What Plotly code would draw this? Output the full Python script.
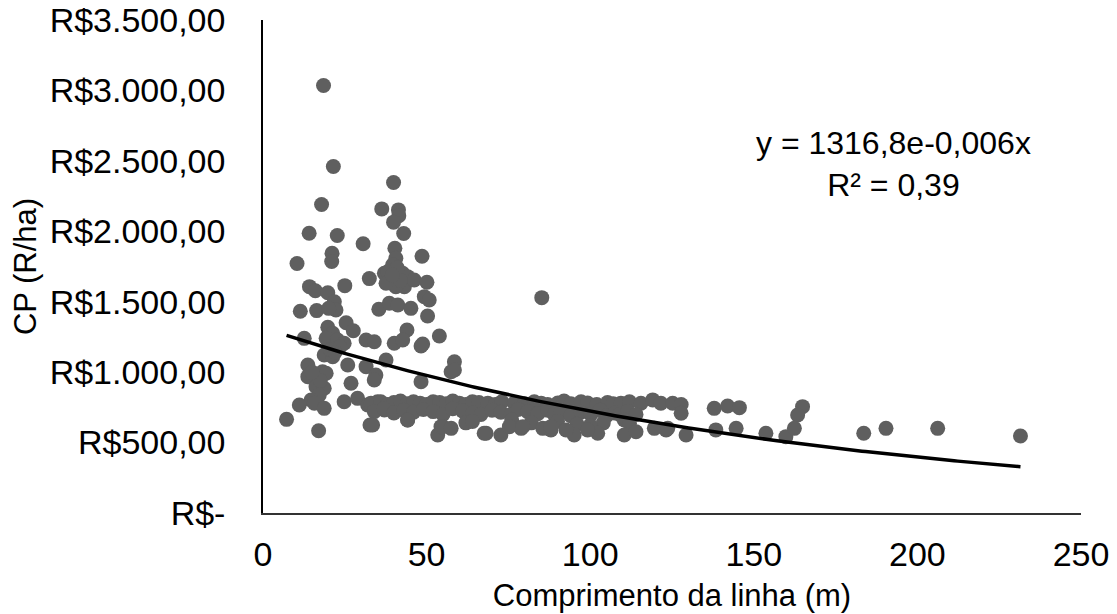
import numpy as np
import plotly.graph_objects as go

# Comprimento da linha (m) and CP (R$/ha) values
x_high = [18.5, 21.5, 39.9, 17.9, 36.3, 41.4, 41.5, 39.9, 43.0, 14.1, 22.7, 30.6, 40.3, 48.6, 21.1, 21.0, 10.4,
          14.2, 16.0, 25.0, 32.5, 37.1, 19.8, 21.8, 22.3, 11.4, 16.4, 20.1, 35.4,
          19.8, 21.3, 25.4, 27.6, 19.3, 22.8, 24.8, 12.6, 31.5, 34.0,
          40.6, 39.6, 38.1, 39.1, 41.2, 42.7, 44.2, 43.2, 40.6, 37.6, 46.2, 50.1, 49.3, 50.8, 38.6, 41.2,
          45.2, 50.3, 44.0, 53.9, 40.1, 42.7, 48.8, 48.3, 37.6, 41.0, 42.0, 39.5, 85.2]
y_high = [3035, 2460, 2346, 2190, 2159, 2152, 2110, 2065, 1984, 1986, 1970, 1911, 1880, 1823, 1844, 1785, 1771,
          1607, 1578, 1614, 1664, 1702, 1564, 1500, 1441, 1432, 1437, 1453, 1446,
          1319, 1276, 1351, 1294, 1240, 1228, 1205, 1240, 1228, 1216,
          1808, 1761, 1713, 1654, 1678, 1702, 1678, 1607, 1607, 1631, 1654, 1638, 1536, 1512, 1489, 1477,
          1453, 1399, 1299, 1257, 1205, 1228, 1200, 1186, 1086, 1740, 1650, 1690, 1529]

x_mid = [13.7, 13.7, 18.2, 19.3, 25.9, 16.2, 18.7, 17.2, 26.9, 31.5, 34.5, 34.0, 48.3, 58.5, 57.5, 58.5,
         18.7, 21.3, 14.7, 11.1, 15.7, 18.7, 7.2, 17.0, 24.8, 28.9, 32.0, 35.0, 37.1, 32.7, 44.2,
         20.5, 23.5, 17.5, 15.0, 22.0]
y_mid = [1051, 968, 1003, 992, 1051, 897, 886, 838, 921, 1039, 980, 944, 932, 1074, 1003, 1015,
         1122, 1110, 802, 767, 779, 743, 665, 584, 790, 814, 767, 790, 731, 625, 660,
         1160, 1180, 940, 1000, 1140]

x_band_top = [33, 36, 38, 40, 42, 44, 46, 48, 50, 52, 54, 56, 58, 60, 62, 64, 66, 68.7, 71, 73, 76.8, 79.9,
              82.9, 85, 87, 90.1, 92, 94.1, 97.2, 99.2, 102, 105.3, 107, 109.4, 112.0, 115.5, 119.1, 121.6,
              125.2, 127.8, 137.9, 142.0, 145.6, 164.9]
y_band_top = [780, 790, 770, 785, 795, 775, 790, 780, 770, 790, 785, 775, 795, 780, 770, 790, 785, 780, 770,
              790, 781, 775, 790, 780, 770, 781, 795, 775, 790, 781, 770, 785, 775, 780, 790, 779, 803, 779,
              779, 770, 743, 760, 748, 755]

x_band_low = [34, 37, 40, 43, 46, 49, 52, 55, 58, 61, 64, 66.6, 70, 72.7, 75.8, 78, 80.9, 84, 87.0, 89, 91.1,
              94, 97.2, 100.2, 103, 105, 107.4, 109, 111.5, 114, 127.8, 163.4]
y_band_low = [720, 740, 710, 730, 715, 735, 720, 700, 740, 725, 710, 700, 730, 715, 700, 735, 720, 705, 730,
              700, 720, 690, 715, 700, 730, 690, 710, 700, 720, 700, 708, 696]

x_low = [33.5, 44.2, 62, 64, 76, 82, 90, 96, 104, 110.4, 112.0, 100,
         68.2, 72.7, 78.9, 85.5, 88.0, 95.1, 102.3, 110.4, 92.6, 99.2, 75.3, 79.4, 88.0, 114.0, 119.6,
         123.2, 129.3, 53.4, 54.4, 123.7, 54.9, 57.5, 67.6,
         138.4, 144.6, 153.7, 159.8, 162.4, 183.6, 190.4, 206.2, 231.5]
y_low = [625, 660, 640, 650, 660, 640, 650, 630, 640, 660, 637, 620,
         566, 554, 601, 601, 590, 554, 566, 554, 590, 590, 613, 613, 613, 577, 601,
         590, 554, 554, 613, 601, 613, 601, 566,
         590, 601, 566, 542, 601, 566, 601, 601, 547]

x_vals = x_high + x_mid + x_band_top + x_band_low + x_low
y_vals = y_high + y_mid + y_band_top + y_band_low + y_low

# Exponential trendline shown on the chart: y = 1316,8 e^(-0,006x)
trend_a = 1316.8
trend_b = -0.006
trend_x = np.linspace(min(x_vals), max(x_vals), 200)
trend_y = trend_a * np.exp(trend_b * trend_x)

y_tickvals = [0, 500, 1000, 1500, 2000, 2500, 3000, 3500]
y_ticktext = ["R$-", "R$500,00", "R$1.000,00", "R$1.500,00", "R$2.000,00",
              "R$2.500,00", "R$3.000,00", "R$3.500,00"]
x_tickvals = [0, 50, 100, 150, 200, 250]

FONT = "Liberation Sans, Arial, sans-serif"

fig = go.Figure()
fig.add_trace(go.Scatter(x=x_vals, y=y_vals, mode="markers",
                         marker=dict(size=15, color="#5f5f5f", line=dict(width=0)),
                         showlegend=False))
fig.add_trace(go.Scatter(x=trend_x, y=trend_y, mode="lines",
                         line=dict(color="black", width=3.5), showlegend=False))

fig.add_annotation(x=0.771, y=0.708, xref="paper", yref="paper", xanchor="center", yanchor="middle",
                   text="y = 1316,8e-0,006x<br>R² = 0,39", showarrow=False,
                   font=dict(family=FONT, size=32, color="black"), align="center")

fig.update_layout(
    width=1117, height=614,
    margin=dict(l=255, r=44, t=12, b=109),
    paper_bgcolor="white", plot_bgcolor="white",
    font=dict(family=FONT, color="black"),
    xaxis=dict(range=[0, 250], tickvals=x_tickvals, showgrid=False, zeroline=False,
               showline=True, linecolor="#333333", linewidth=1.5, automargin=False,
               tickfont=dict(size=34), ticklabelstandoff=10, ticklabeloverflow="allow",
               title=dict(text="Comprimento da linha (m)", font=dict(size=31), standoff=13)),
    yaxis=dict(range=[0, 3500], tickvals=y_tickvals, ticktext=y_ticktext, showgrid=False,
               zeroline=False, showline=True, linecolor="black", linewidth=1.5, automargin=False,
               tickfont=dict(size=34), ticklabelstandoff=29, ticklabeloverflow="allow",
               title=dict(text="CP (R/ha)", font=dict(size=31), standoff=8)),
)

fig.write_html("out.html")
